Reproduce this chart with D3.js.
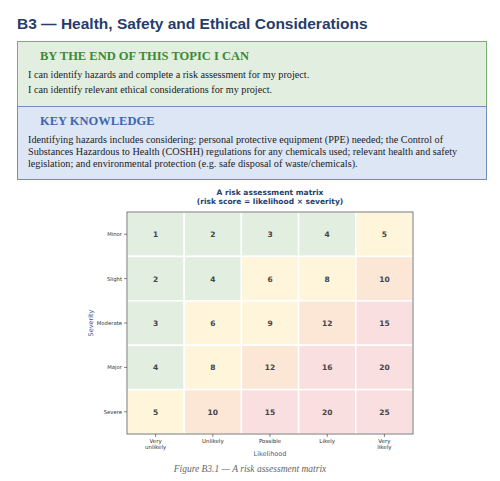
<!DOCTYPE html>
<html><head><meta charset="utf-8">
<script src="https://cdn.jsdelivr.net/npm/d3@7"></script>
<style>
body{margin:0;width:500px;height:481px;background:#fff;font-family:"Liberation Serif",serif;overflow:hidden}
h1{position:absolute;left:17px;top:15px;margin:0;font:bold 15.5px "Liberation Sans",Arial,sans-serif;color:#263d6b}
.box{position:absolute;left:17px;width:470px;box-sizing:border-box;padding:0 10px}
.g{top:41px;height:66px;background:#e1eee0;border:1.5px solid #7aae74}
.b{top:106px;height:74px;background:#dde6f4;border:1.5px solid #6f8fc0}
.hd{font-weight:bold;font-size:12.5px;margin:7px 0 5px 12px}
.g .hd{color:#3b8a34}.b .hd{color:#3e66ad}
p{margin:0 0 3px 0;font-size:10.2px;color:#222;line-height:12px}
#cap{position:absolute;left:0;width:500px;top:464px;text-align:center;font-style:italic;font-size:9.5px;color:#666}
</style></head><body>
<h1>B3 — Health, Safety and Ethical Considerations</h1>
<div class="box g"><div class="hd">BY THE END OF THIS TOPIC I CAN</div>
<p>I can identify hazards and complete a risk assessment for my project.</p>
<p>I can identify relevant ethical considerations for my project.</p></div>
<div class="box b"><div class="hd">KEY KNOWLEDGE</div>
<p>Identifying hazards includes considering: personal protective equipment (PPE) needed; the Control of Substances Hazardous to Health (COSHH) regulations for any chemicals used; relevant health and safety legislation; and environmental protection (e.g. safe disposal of waste/chemicals).</p></div>
<svg id="chart" width="500" height="481" style="position:absolute;left:0;top:0"></svg>
<div id="cap">Figure B3.1 — A risk assessment matrix</div>
<script>
var likelihood = ["Very\nunlikely","Unlikely","Possible","Likely","Very\nlikely"];
var severity = ["Minor","Slight","Moderate","Major","Severe"];
var likeScore = [1,2,3,4,5];
var sevScore = [1,2,3,4,5];

var L=127,R=413,T=212,B=434;
var svg=d3.select("#chart");
var x=d3.scaleBand().domain(d3.range(5)).range([L,R]);
var y=d3.scaleBand().domain(d3.range(5)).range([T,B]);
function col(s){return s<=4?"#e1eee0":s<=9?"#fff5da":s<=14?"#fce7d6":"#fadfe1";}
var cells=[];
sevScore.forEach(function(sv,i){likeScore.forEach(function(lk,j){cells.push({i:i,j:j,s:sv*lk});});});
svg.selectAll("rect.c").data(cells).enter().append("rect")
 .attr("x",d=>x(d.j)).attr("y",d=>y(d.i)).attr("width",x.bandwidth()).attr("height",y.bandwidth())
 .attr("fill",d=>col(d.s)).attr("stroke","#fff").attr("stroke-width",1.5);
svg.selectAll("text.v").data(cells).enter().append("text")
 .attr("x",d=>x(d.j)+x.bandwidth()/2).attr("y",d=>y(d.i)+y.bandwidth()/2+3)
 .attr("text-anchor","middle").attr("font-family","DejaVu Sans").attr("font-weight","bold")
 .attr("font-size",7.5).attr("fill","#444").text(d=>d.s);
svg.append("rect").attr("x",L).attr("y",T).attr("width",R-L).attr("height",B-T).attr("fill","none").attr("stroke","#555").attr("stroke-width",0.8);
severity.forEach(function(s,i){
 var yy=y(i)+y.bandwidth()/2;
 svg.append("line").attr("x1",L-3).attr("x2",L).attr("y1",yy).attr("y2",yy).attr("stroke","#333").attr("stroke-width",0.6);
 svg.append("text").attr("x",L-5).attr("y",yy+2).attr("text-anchor","end").attr("font-family","DejaVu Sans").attr("font-size",5.3).attr("fill","#333").text(s);
});
likelihood.forEach(function(s,j){
 var xx=x(j)+x.bandwidth()/2;
 svg.append("line").attr("x1",xx).attr("x2",xx).attr("y1",B).attr("y2",B+3).attr("stroke","#333").attr("stroke-width",0.6);
 var t=svg.append("text").attr("x",xx).attr("y",B+9).attr("text-anchor","middle").attr("font-family","DejaVu Sans").attr("font-size",5.5).attr("fill","#333");
 s.split("\n").forEach(function(l,k){t.append("tspan").attr("x",xx).attr("dy",k?6:0).text(l);});
});
svg.append("text").attr("x",(L+R)/2).attr("y",B+22).attr("text-anchor","middle").attr("font-family","DejaVu Sans").attr("font-size",6.5).attr("fill","#3e5c99").text("Likelihood");
svg.append("text").attr("transform","translate(93,"+((T+B)/2)+") rotate(-90)").attr("text-anchor","middle").attr("font-family","DejaVu Sans").attr("font-size",6.5).attr("fill","#3e5c99").text("Severity");
svg.append("text").attr("x",(L+R)/2).attr("y",195).attr("text-anchor","middle").attr("font-family","DejaVu Sans").attr("font-weight","bold").attr("font-size",7.5).attr("fill","#263d6b").text("A risk assessment matrix");
svg.append("text").attr("x",(L+R)/2).attr("y",204).attr("text-anchor","middle").attr("font-family","DejaVu Sans").attr("font-weight","bold").attr("font-size",7.5).attr("fill","#263d6b").text("(risk score = likelihood × severity)");
</script></body></html>
